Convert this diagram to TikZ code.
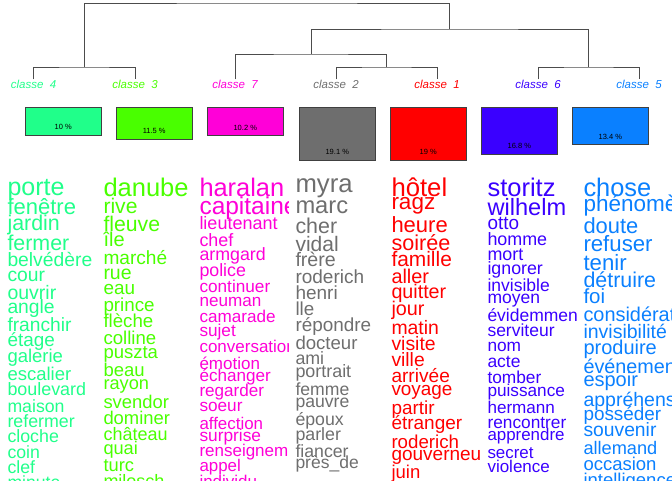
\documentclass[tikz,border=0pt]{standalone}
\usepackage{fontspec}
\setmainfont{Liberation Sans}
\setsansfont{Liberation Sans}
\usepackage{tikz}
\usetikzlibrary{positioning}
\usepackage{xcolor}
\definecolor{clsA}{HTML}{FF0000}
\definecolor{clsB}{HTML}{6E6E6E}
\definecolor{clsC}{HTML}{49FF00}
\definecolor{clsD}{HTML}{20FF8A}
\definecolor{clsE}{HTML}{0A80FF}
\definecolor{clsF}{HTML}{3A00FF}
\definecolor{clsG}{HTML}{FF00D8}
\tikzset{
  % dendrogram
  dendro/.style = {line width=0.6pt, draw=black!70},
  clab/.style   = {font=\fontsize{11.5}{11.5}\selectfont\itshape, inner sep=0pt, anchor=base},
  % class boxes
  clbox/.style  = {draw=black!75, line width=0.5pt, rectangle, inner sep=0pt,
                   minimum width=76pt, anchor=north west},
  pct/.style    = {font=\fontsize{7.5}{7.5}\selectfont, inner sep=0pt},
  % words
  word/.style   = {anchor=base west, inner sep=0pt, outer sep=0pt},
}
\begin{document}
\begin{tikzpicture}[x=1pt,y=-1pt]
  \useasboundingbox (0,0) rectangle (672,480);
  % class labels
  \node[clab, clsD] (cl4) at (33.5,88) {classe~~4};
  \node[clab, clsC] (cl3) at (135,88) {classe~~3};
  \node[clab, clsG] (cl7) at (235,88) {classe~~7};
  \node[clab, clsB] (cl2) at (336,88) {classe~~2};
  \node[clab, clsA] (cl1) at (437,88) {classe~~1};
  \node[clab, clsF] (cl6) at (538,88) {classe~~6};
  \node[clab, clsE] (cl5) at (639,88) {classe~~5};
  % joins
  \coordinate (j43) at (84,67);
  \coordinate (j21) at (386.5,67);
  \coordinate (j65) at (588.5,67);
  \coordinate (j721) at (311,54);
  \coordinate (jR) at (449.5,29);
  \coordinate (root) at (267,3);
  \draw[dendro] (cl4.north) |- (j43) -| (cl3.north);
  \draw[dendro] (cl2.north) |- (j21) -| (cl1.north);
  \draw[dendro] (cl6.north) |- (j65) -| (cl5.north);
  \draw[dendro] (cl7.north) |- (j721) -| (j21);
  \draw[dendro] (j721) |- (jR) -| (j65);
  \draw[dendro] (j43) |- (root) -| (jR);
  % boxes
  \node[clbox, fill=clsD, minimum height=27.8pt] (b4) at (25,107) {};
  \node[clbox, fill=clsC, minimum height=32pt] (b3) at (116,107) {};
  \node[clbox, fill=clsG, minimum height=28.4pt] (b7) at (207,107) {};
  \node[clbox, fill=clsB, minimum height=53.1pt] (b2) at (299,107) {};
  \node[clbox, fill=clsA, minimum height=52.8pt] (b1) at (390,107) {};
  \node[clbox, fill=clsF, minimum height=46.7pt] (b6) at (481,107) {};
  \node[clbox, fill=clsE, minimum height=37.3pt] (b5) at (572,107) {};
  \node[pct] (p4) at ([yshift=8.3pt]b4.south) {10 \%};
  \node[pct] (p3) at ([yshift=8.3pt]b3.south) {11.5 \%};
  \node[pct] (p7) at ([yshift=8.3pt]b7.south) {10.2 \%};
  \node[pct] (p2) at ([yshift=8.3pt]b2.south) {19.1 \%};
  \node[pct] (p1) at ([yshift=8.3pt]b1.south) {19 \%};
  \node[pct] (p6) at ([yshift=8.3pt]b6.south) {16.8 \%};
  \node[pct] (p5) at ([yshift=8.3pt]b5.south) {13.4 \%};
  % classe 4
  \begin{scope}
    \clip (4,165) rectangle (96.3,480);
    \foreach \w/\s/\y [count=\i] in {porte/25/195, fenêtre/22/214.3, jardin/21.4/230,
      fermer/21.4/250, belvédère/19.3/266, cour/19.3/281, ouvrir/19.5/299.3,
      angle/19.3/313.3, franchir/19.2/331.7, étage/18.9/346, galerie/18.5/362.3,
      escalier/18.5/380.7, boulevard/17.9/395.7, maison/17.7/412, refermer/17.8/427.3,
      cloche/17.8/442.7, coin/17.7/458.3, clef/17.7/473.3, minute/17.6/488}
      \node[word, clsD, font=\fontsize{\s}{\s}\selectfont] (wd\i) at (7.5,\y) {\w};
  \end{scope}
  % classe 3
  \begin{scope}
    \clip (100,165) rectangle (192.3,480);
    \foreach \w/\s/\y [count=\i] in {danube/25.5/196.7, rive/21.1/213.3, fleuve/21.2/231.7,
      île/20/246.7, marché/19.1/264, rue/19.5/279.3, eau/18.9/294.3, prince/18.8/311,
      flèche/18.7/327.7, colline/18.6/344, puszta/18.5/358.7, beau/18.5/376.7,
      rayon/18.2/389.3, svendor/18.4/408.3, dominer/18.4/424, château/18/440.7,
      quai/18.2/454.3, turc/18.3/471.7, milosch/18/487}
      \node[word, clsC, font=\fontsize{\s}{\s}\selectfont] (wc\i) at (103.5,\y) {\w};
  \end{scope}
  % classe 7
  \begin{scope}
    \clip (196,165) rectangle (288.3,480);
    \foreach \w/\s/\y [count=\i] in {haralan/25.4/196.7, capitaine/24.5/214.3,
      lieutenant/18/229.3, chef/17.9/246, armgard/17.8/260.7, police/17.8/276,
      continuer/17.2/292.3, neuman/17.1/306.7, camarade/17.1/322.3, sujet/17.2/336,
      conversation/17/352.7, émotion/17/369, échanger/17.1/381, regarder/17.1/396.7,
      soeur/17.2/411.7, affection/16.9/429, surprise/17.3/441.7,
      renseignement/17/456.7, appel/16.9/471.7, individu/17/487}
      \node[word, clsG, font=\fontsize{\s}{\s}\selectfont] (wg\i) at (199.5,\y) {\w};
  \end{scope}
  % classe 2
  \begin{scope}
    \clip (292,165) rectangle (384.3,480);
    \foreach \w/\s/\y [count=\i] in {myra/25.7/192.7, marc/23.7/213.3, cher/21.4/233.3,
      vidal/21/251, frère/19.6/266.7, roderich/19/283.3, henri/19/299.3, lle/18.8/315,
      répondre/18.9/331.7, docteur/18.6/349, ami/17.8/364, portrait/17.9/377.3,
      femme/17.6/395.7, pauvre/17.6/407.3, époux/17.7/425, parler/17.8/440,
      fiancer/17.7/457.3, près\_de/17.5/468.3}
      \node[word, clsB, font=\fontsize{\s}{\s}\selectfont] (wb\i) at (295.5,\y) {\w};
  \end{scope}
  % classe 1
  \begin{scope}
    \clip (388,165) rectangle (480.3,480);
    \foreach \w/\s/\y [count=\i] in {hôtel/25.7/196.7, ragz/22.5/209, heure/22/232.7,
      soirée/21.6/250, famille/20.9/266.7, aller/19.9/283.3, quitter/19.7/298.3,
      jour/19.8/315, matin/19.4/334, visite/19.4/350, ville/19.3/366,
      arrivée/19.1/382.7, voyage/18.9/395.7, partir/18.9/414, étranger/19/429.3,
      roderich/18.7/448.3, gouverneur/19/460, juin/18.5/478.3}
      \node[word, clsA, font=\fontsize{\s}{\s}\selectfont] (wa\i) at (391.5,\y) {\w};
  \end{scope}
  % classe 6
  \begin{scope}
    \clip (484,165) rectangle (576.3,480);
    \foreach \w/\s/\y [count=\i] in {storitz/25.5/196.7, wilhelm/23.6/215, otto/18.9/229.3,
      homme/17.9/245, mort/17.9/260, ignorer/17.8/274, invisible/17.5/291.7,
      moyen/17.5/303.3, évidemment/17.5/321.7, serviteur/17.5/336.7, nom/17.3/351,
      acte/17.5/367.7, tomber/17.3/383.3, puissance/17.2/396, hermann/17.1/413.3,
      rencontrer/17.3/428.3, apprendre/16.9/440, secret/16.9/458.3, violence/17/472.7}
      \node[word, clsF, font=\fontsize{\s}{\s}\selectfont] (wf\i) at (487.5,\y) {\w};
  \end{scope}
  % classe 5
  \begin{scope}
    \clip (580,165) rectangle (672,480);
    \foreach \w/\s/\y [count=\i] in {chose/25.4/196, phénomène/22.5/211.7, doute/21.9/233.3,
      refuser/22.2/251.7, tenir/22.2/270, détruire/21.4/287.3, foi/20.5/303.3,
      considération/19.9/321.7, invisibilité/19.5/338.3, produire/20/354,
      événement/19.8/373.3, espoir/20/386.7, appréhension/19.5/406.7,
      posséder/18.9/420, souvenir/19.3/436.7, allemand/18.2/454, occasion/18.5/470,
      intelligence/18.5/486}
      \node[word, clsE, font=\fontsize{\s}{\s}\selectfont] (we\i) at (583.5,\y) {\w};
  \end{scope}
\end{tikzpicture}
\end{document}
